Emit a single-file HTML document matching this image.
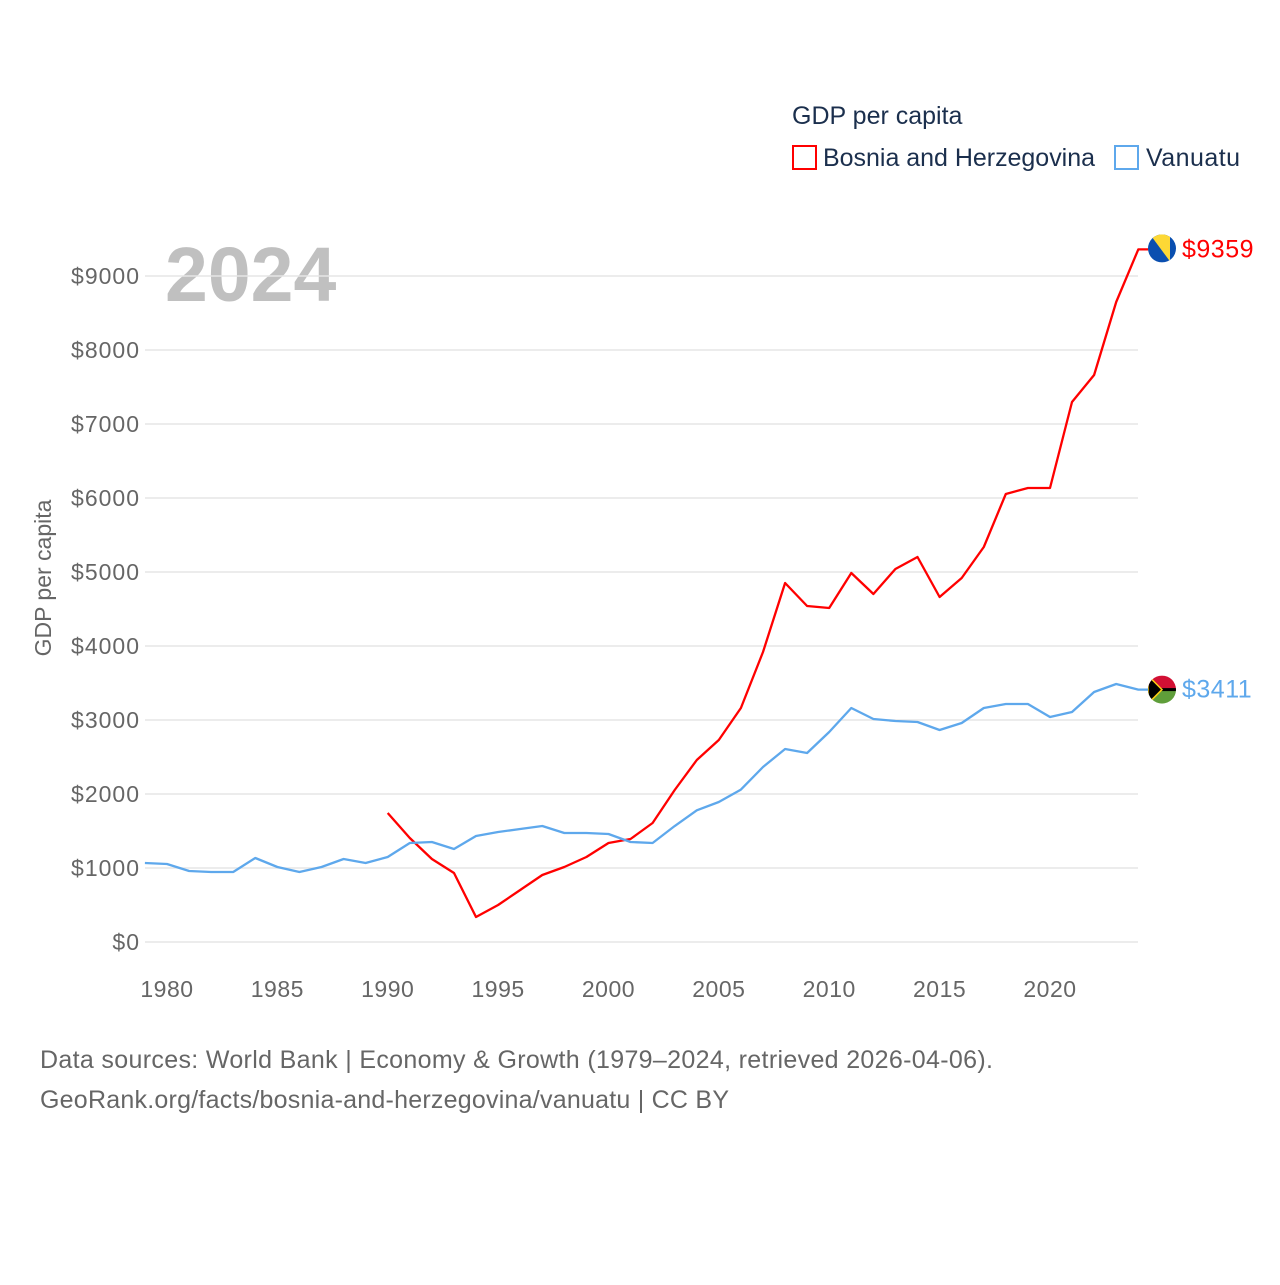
<!DOCTYPE html>
<html><head><meta charset="utf-8"><style>
body{margin:0;background:#fff;}
svg text{font-family:"Liberation Sans",sans-serif;}
</style></head><body>
<svg id="chart" width="1280" height="1280" xmlns="http://www.w3.org/2000/svg">
<text x="792" y="124" font-size="25" fill="#1b2f4d">GDP per capita</text>
<rect x="793" y="146" width="23" height="23" fill="none" stroke="#ff0000" stroke-width="2"/>
<text x="823" y="166" font-size="25" fill="#1b2f4d" textLength="272">Bosnia and Herzegovina</text>
<rect x="1115" y="146" width="23" height="23" fill="none" stroke="#5ea8ec" stroke-width="2"/>
<text x="1146" y="166" font-size="25" fill="#1b2f4d" textLength="94">Vanuatu</text>
<text x="165" y="301" font-size="77" font-weight="bold" fill="#c0c0c0">2024</text>
<text transform="translate(51,578) rotate(-90)" text-anchor="middle" font-size="23" fill="#666">GDP per capita</text>
<g id="grid"></g><g id="lines"></g>
<text x="40" y="1068" font-size="25" fill="#666" textLength="953">Data sources: World Bank | Economy &amp; Growth (1979–2024, retrieved 2026-04-06).</text>
<text x="40" y="1108" font-size="25" fill="#666" textLength="689">GeoRank.org/facts/bosnia-and-herzegovina/vanuatu | CC BY</text>
</svg>
<script>
const years=[];for(let y=1979;y<=2024;y++)years.push(y);
const vanuatu=[1068,1054,960,946,946,1135,1014,946,1014,1122,1068,1149,1338,1351,1257,1432,1486,1527,1567,1473,1473,1459,1351,1338,1567,1780,1892,2060,2365,2608,2554,2838,3162,3014,2986,2973,2865,2960,3162,3216,3216,3041,3108,3378,3486,3411];
const bosnia=[null,null,null,null,null,null,null,null,null,null,null,1743,1405,1122,932,338,500,703,905,1014,1149,1338,1392,1608,2054,2459,2730,3162,3919,4851,4541,4514,4986,4703,5041,5203,4662,4919,5338,6054,6135,6135,7297,7662,8649,9359];
const yTicks=[0,1000,2000,3000,4000,5000,6000,7000,8000,9000];
const xTicks=[1980,1985,1990,1995,2000,2005,2010,2015,2020];
const NS="http://www.w3.org/2000/svg";
const X=y=>144.9+(y-1979)*22.075;
const Y=v=>942-v*0.074;
function mk(t,a,p){const e=document.createElementNS(NS,t);for(const k in a)e.setAttribute(k,a[k]);p.appendChild(e);return e;}
const grid=document.getElementById('grid'),lines=document.getElementById('lines');
yTicks.forEach(v=>{
 const l=mk('line',{x1:145,x2:1138,y1:Y(v),y2:Y(v),stroke:'#e6e6e6','stroke-width':1.5},grid);
 
 
 const t=mk('text',{x:140,y:Y(v)+8,'text-anchor':'end','font-size':23,'letter-spacing':1,fill:'#666'},grid);
 t.textContent='$'+v;
 
 
});
xTicks.forEach(y=>{
 const t=mk('text',{x:X(y),y:997,'text-anchor':'middle','font-size':23,'letter-spacing':0.5,fill:'#666'},grid);
 t.textContent=y;
 
 
});
function series(vals,color,name){
 let d='';vals.forEach((v,i)=>{if(v==null)return;d+=(d?'L':'M')+X(years[i]).toFixed(1)+','+Y(v).toFixed(1);});
 const last=vals[vals.length-1];
 d+='L'+(X(2024)+10).toFixed(1)+','+Y(last).toFixed(1);
 const p=mk('path',{d:d,fill:'none',stroke:color,'stroke-width':2.3,'stroke-linejoin':'round'},lines);
 
 
 return last;
}
const bl=series(bosnia,'#ff0000','bosnia');
const vl=series(vanuatu,'#5ea8ec','vanuatu');
const cxF=1162;
let by=Y(bl)-1;
const bf=mk('g',{},lines);


const cb=mk('clipPath',{id:'cb'},bf);mk('circle',{cx:cxF,cy:by,r:14},cb);
mk('rect',{x:cxF-14,y:by-14,width:28,height:28,fill:'#0a4fb0','clip-path':'url(#cb)'},bf);
mk('path',{d:`M${cxF-12},${by-14}L${cxF+8},${by-14}L${cxF+8},${by+13}Z`,fill:'#fdd835','clip-path':'url(#cb)'},bf);
const bt=mk('text',{x:1182,y:by+9,'font-size':25,'letter-spacing':0.5,fill:'#ff0000'},lines);
bt.textContent='$'+bl;


let vy=Y(vl);
const vf=mk('g',{},lines);


const cp=mk('clipPath',{id:'cv'},vf);mk('circle',{cx:cxF,cy:vy,r:14},cp);
mk('rect',{x:cxF-14,y:vy-14,width:28,height:14,fill:'#d21034','clip-path':'url(#cv)'},vf);
mk('rect',{x:cxF-14,y:vy,width:28,height:14,fill:'#5f9e3a','clip-path':'url(#cv)'},vf);
mk('rect',{x:cxF-14,y:vy-1.5,width:28,height:3,fill:'#000','clip-path':'url(#cv)'},vf);
mk('path',{d:`M${cxF-14},${vy-14}L${cxF},${vy}L${cxF-14},${vy+14}Z`,fill:'#000',stroke:'#fdce12','stroke-width':1.5,'clip-path':'url(#cv)'},vf);
const vt=mk('text',{x:1182,y:vy+8,'font-size':25,'letter-spacing':0.5,fill:'#5ea8ec'},lines);
vt.textContent='$'+vl;


</script>
</body></html>
